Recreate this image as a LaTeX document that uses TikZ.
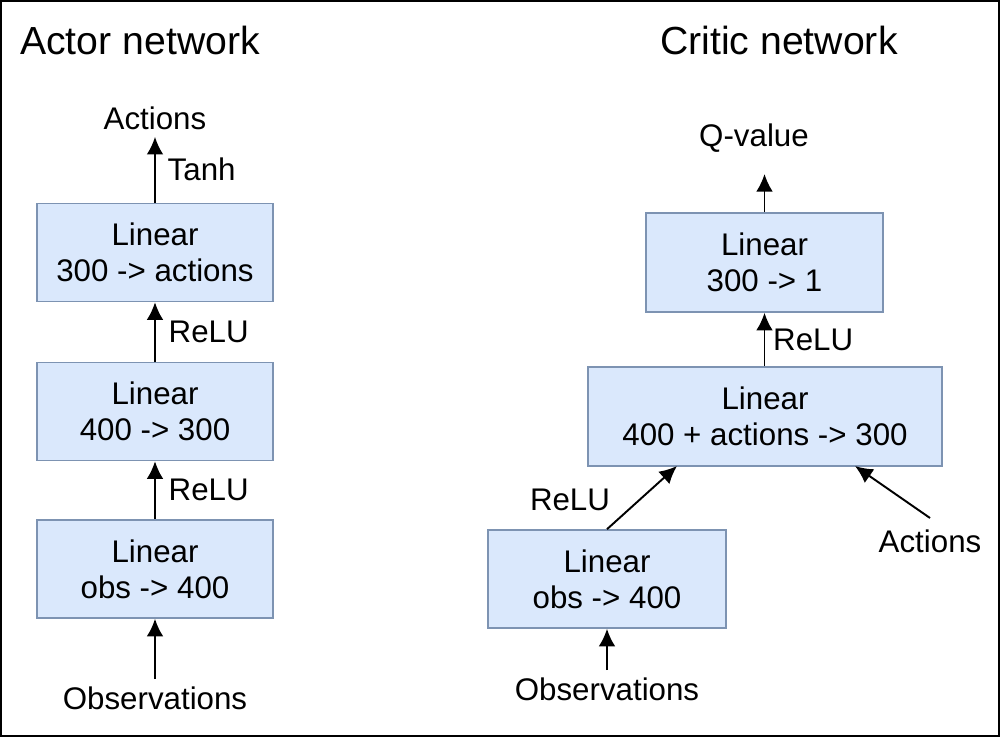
\documentclass[tikz,border=0pt]{standalone}
\usepackage{fontspec}
\setmainfont{Liberation Sans}
\usepackage{tikz}
\usetikzlibrary{arrows.meta,positioning}
\usepackage{xcolor}
\definecolor{layerfill}{HTML}{DAE8FC}
\definecolor{layerdraw}{HTML}{7D93B2}
\tikzstyle{layer}=[draw=layerdraw,fill=layerfill,line width=0.9pt,align=center,
  inner sep=0pt,font=\fontsize{17.8}{20.6}\selectfont]
\tikzstyle{lbl}=[inner sep=1pt,font=\fontsize{17.8}{20.6}\selectfont]
\tikzstyle{title}=[inner sep=0pt,font=\fontsize{22.3}{26}\selectfont]
\tikzstyle{flow}=[-{Latex[length=10pt,width=9.5pt]},line width=1.1pt,black]

\begin{document}
\begin{tikzpicture}
  \useasboundingbox (0,0) rectangle (20,-14.74);
  \draw[line width=0.9pt] (0.02,-0.02) rectangle (19.98,-14.72);

  % TITLES
  \node[title] (actitle) at (2.8,-0.8) {Actor network};
  \node[title] (crtitle) at (15.58,-0.8) {Critic network};

  % ACTOR
  \node[layer,minimum width=4.72cm,minimum height=1.96cm] (A1) at (3.1,-5.05)
    {Linear\\300 -> actions};
  \node[layer,minimum width=4.72cm,minimum height=1.96cm] (A2) at (3.1,-8.23)
    {Linear\\400 -> 300};
  \node[layer,minimum width=4.72cm,minimum height=1.96cm] (A3) at (3.1,-11.38)
    {Linear\\obs -> 400};
  \node[lbl] (aout) at (3.1,-2.36) {Actions};
  \node[lbl] (ain) at (3.1,-13.96) {Observations};

  \draw[flow] (A1.north) -- ([yshift=-3pt]aout.south)
    node[lbl,midway,right=0.2cm] (tanh) {Tanh};
  \draw[flow] (A2.north) -- (A1.south)
    node[lbl,midway,right=0.22cm] (relua1) {ReLU};
  \draw[flow] (A3.north) -- (A2.south)
    node[lbl,midway,right=0.22cm] (relua2) {ReLU};
  \draw[flow] ([yshift=3pt]ain.north) -- (A3.south);

  % CRITIC
  \node[layer,minimum width=4.74cm,minimum height=1.98cm] (Q) at (15.29,-5.25)
    {Linear\\300 -> 1};
  \node[layer,minimum width=7.08cm,minimum height=1.98cm] (M) at (15.3,-8.33)
    {Linear\\400 + actions -> 300};
  \node[layer,minimum width=4.76cm,minimum height=1.96cm] (O) at (12.14,-11.58)
    {Linear\\obs -> 400};
  \node[lbl] (qout) at (15.08,-2.76) {Q-value};
  \node[lbl] (cin) at (12.14,-13.78) {Observations};
  \node[lbl] (cact) at (18.6,-10.82) {Actions};
  \coordinate (Qtop) at (15.29,-3.48);
  \coordinate (Min1) at (13.54,-9.32);
  \coordinate (Min2) at (17.1,-9.32);
  \coordinate (Aout2) at (18.6,-10.36);

  \draw[flow] (Q.north) -- (Qtop);
  \draw[flow] (M.north -| Q.north) -- (Q.south)
    node[lbl,midway,right=0.12cm] (reluc1) {ReLU};
  \draw[flow] (O.north) -- (Min1);
  \node[lbl] (reluc2) at (11.4,-10.0) {ReLU};
  \draw[flow] (Aout2) -- (Min2);
  \draw[flow] ([yshift=3pt]cin.north) -- (O.south);

\end{tikzpicture}
\end{document}
